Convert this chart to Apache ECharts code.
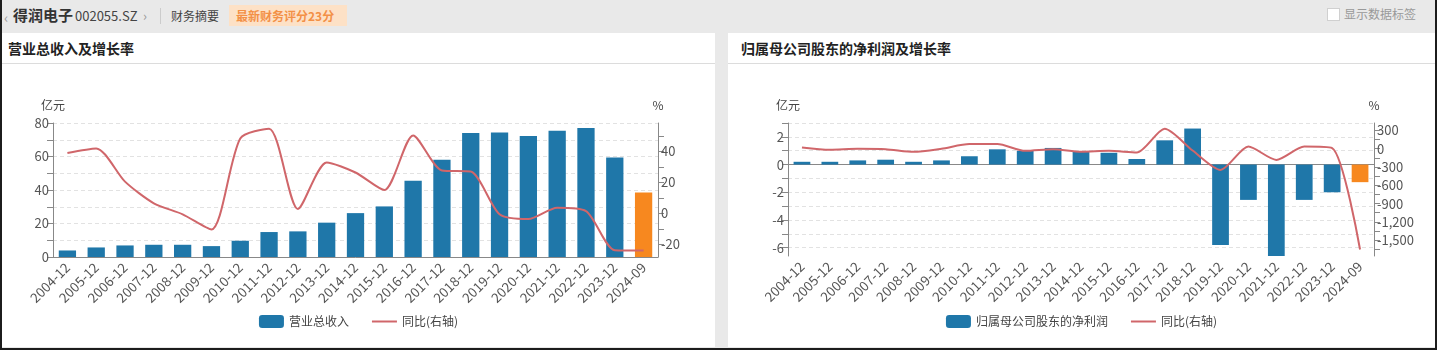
<!DOCTYPE html>
<html><head><meta charset="utf-8">
<script src="https://cdn.jsdelivr.net/npm/echarts@6/dist/echarts.min.js"></script>
<style>
html,body{margin:0;padding:0;width:1437px;height:350px;overflow:hidden;background:#e9e9e9;font-family:"Noto Sans CJK SC","Noto Sans",sans-serif;}
#frame{position:absolute;left:0;top:0;width:1433px;height:348px;border-left:2px solid #1c1c1c;border-right:2px solid #1c1c1c;border-bottom:2px solid #1c1c1c;background:#e9e9e9;}
.abs{position:absolute;white-space:nowrap;}
.panel{position:absolute;top:33px;height:314px;background:#fff;}
.ptitle{position:absolute;left:6px;top:4px;font-size:14px;font-weight:bold;color:#222;line-height:22px;}
.sep{position:absolute;left:0;right:0;top:30px;height:1px;background:#dcdcdc;}
.chart{position:absolute;left:0;top:31px;right:0;bottom:0;}
</style></head>
<body>
<div id="frame">
  <div class="abs" style="left:2px;top:7px;font-size:14px;color:#999;">‹</div>
  <div class="abs" style="left:11px;top:5px;font-size:15px;font-weight:bold;color:#333;line-height:20px;">得润电子</div>
  <div class="abs" style="left:73px;top:6px;font-size:13px;color:#444;line-height:20px;">002055.SZ</div>
  <div class="abs" style="left:141px;top:6px;font-size:13px;color:#999;line-height:20px;">›</div>
  <div class="abs" style="left:158px;top:8px;width:1px;height:16px;background:#ccc;"></div>
  <div class="abs" style="left:169px;top:6px;font-size:12px;color:#444;line-height:20px;">财务摘要</div>
  <div class="abs" style="left:227px;top:5px;width:118px;height:21px;background:#fde1c6;"></div>
  <div class="abs" style="left:234px;top:6px;font-size:12px;color:#f39046;line-height:20px;font-weight:bold;">最新财务评分23分</div>
  <div class="abs" style="left:1325px;top:8px;width:11px;height:11px;background:#fff;border:1px solid #d0d0d0;"></div>
  <div class="abs" style="left:1342px;top:4px;font-size:12px;color:#999;line-height:20px;">显示数据标签</div>

  <div class="panel" style="left:0px;width:713px;">
    <div class="ptitle">营业总收入及增长率</div>
    <div class="sep"></div>
    <div id="c1" class="chart"></div>
  </div>
  <div class="panel" style="left:726px;width:707px;">
    <div class="ptitle" style="left:13px;">归属母公司股东的净利润及增长率</div>
    <div class="sep"></div>
    <div id="c2" class="chart"></div>
  </div>
</div>
<script>
const categories = ['2004-12','2005-12','2006-12','2007-12','2008-12','2009-12','2010-12','2011-12','2012-12','2013-12','2014-12','2015-12','2016-12','2017-12','2018-12','2019-12','2020-12','2021-12','2022-12','2023-12','2024-09'];
const revenue = [3.9,5.7,6.9,7.3,7.3,6.5,9.7,14.9,15.3,20.5,26.2,30.2,45.5,58.0,74.0,74.3,72.3,75.3,77.0,59.4,38.5];
const revenueYoY = [39,42,20.5,6.5,-0.6,-10.4,48.4,54.7,2.8,32.9,26.4,15.1,50.4,27.7,27.0,-0.6,-3.7,3.6,1.5,-23.8,-24.0];
const netProfit = [0.2,0.2,0.3,0.35,0.2,0.3,0.6,1.1,1.0,1.2,0.95,0.85,0.4,1.75,2.6,-5.8,-2.55,-6.6,-2.55,-2.0,-1.27];
const netProfitYoY = [20,-18,-2,-7,-51,0,76,76,-35,-7,-50,-35,-62,328,-30,-348,36,-183,36,10,-1654];

const revTicks = [0,10,20,30,40,50,60,70,80];
const revLabels = [0,20,40,60,80];
const revYoYTicks = [-20,-10,0,10,20,30,40,50];
const revYoYLabels = [-20,0,20,40];
const npTicks = [-6,-5,-4,-3,-2,-1,0,1,2,3];
const npLabels = [-6,-4,-2,0,2];
const npYoYTicks = [-1650,-1500,-1350,-1200,-1050,-900,-750,-600,-450,-300,-150,0,150,300];
const npYoYLabels = [-1500,-1200,-900,-600,-300,0,300];

const BLUE = '#1f77a9', ORANGE = '#f7881f', RED = '#d0666a';
const FONT = '"Noto Sans CJK SC","Noto Sans",sans-serif';
const axisLineStyle = {lineStyle:{color:'#888'}};

function fmt(v){ return Number(v).toLocaleString('en-US'); }

function makeOption(cfg){
  const barData = cfg.bars.map((v,i)=> i===cfg.bars.length-1 ? {value:v,itemStyle:{color:ORANGE}} : v);
  return {
    animation:false,
    textStyle:{fontFamily:FONT},
    grid:{left:cfg.gl,right:cfg.gr,top:59,bottom:cfg.gb},
    legend:{
      bottom:14, itemWidth:25, itemHeight:13, itemGap:22,
      textStyle:{fontSize:12,color:'#444',fontFamily:FONT},
      data:[{name:cfg.barName,icon:'roundRect'},{name:'同比(右轴)',itemStyle:{opacity:0}}]
    },
    xAxis:{
      type:'category', data:categories,
      axisLine:axisLineStyle,
      axisTick:{alignWithLabel:true,lineStyle:{color:'#888'},length:6},
      axisLabel:{rotate:45,fontSize:13.5,color:'#555',interval:0,margin:8,fontFamily:FONT}
    },
    yAxis:[
      {
        type:'value', name:'亿元', nameGap:12, min:cfg.lmin, max:cfg.lmax,
        nameTextStyle:{fontSize:12,color:'#444',fontFamily:FONT},
        axisLine:{show:true,lineStyle:{color:'#888'}},
        axisTick:{show:true,customValues:cfg.lTicks,length:6,lineStyle:{color:'#888'}},
        axisLabel:{customValues:cfg.lLabels,fontSize:13,color:'#555',margin:4,fontFamily:FONT},
        splitLine:{show:true,lineStyle:{color:'#e2e2e2',type:[4,3]}}
      },
      {
        type:'value', name:'%', nameGap:12, min:cfg.rmin, max:cfg.rmax,
        nameTextStyle:{fontSize:12,color:'#444',fontFamily:FONT},
        axisLine:{show:true,lineStyle:{color:'#888'}},
        axisTick:{show:true,customValues:cfg.rTicks,length:6,lineStyle:{color:'#888'}},
        axisLabel:{customValues:cfg.rLabels,fontSize:13,color:'#555',margin:3,formatter:fmt,fontFamily:FONT},
        splitLine:{show:false}
      }
    ],
    series:[
      {name:cfg.barName,type:'bar',yAxisIndex:0,data:barData,barWidth:'60%',itemStyle:{color:BLUE}},
      {name:'同比(右轴)',type:'line',yAxisIndex:1,data:cfg.line,symbol:'none',smooth:0.25,
       lineStyle:{color:RED,width:2},itemStyle:{color:RED}}
    ]
  };
}

const c1 = echarts.init(document.getElementById('c1'),null,{renderer:'canvas'});
c1.setOption(makeOption({
  gl:51, gr:57, gb:90,
  bars:revenue, line:revenueYoY, barName:'营业总收入',
  lmin:0, lmax:80, lTicks:revTicks, lLabels:revLabels,
  rmin:-28.2, rmax:58.4, rTicks:revYoYTicks, rLabels:revYoYLabels
}));
const c2 = echarts.init(document.getElementById('c2'),null,{renderer:'canvas'});
c2.setOption(makeOption({
  gl:60, gr:61, gb:91,
  bars:netProfit, line:netProfitYoY, barName:'归属母公司股东的净利润',
  lmin:-6.6, lmax:3, lTicks:npTicks, lLabels:npLabels,
  rmin:-1760, rmax:422, rTicks:npYoYTicks, rLabels:npYoYLabels
}));
</script>
</body></html>
